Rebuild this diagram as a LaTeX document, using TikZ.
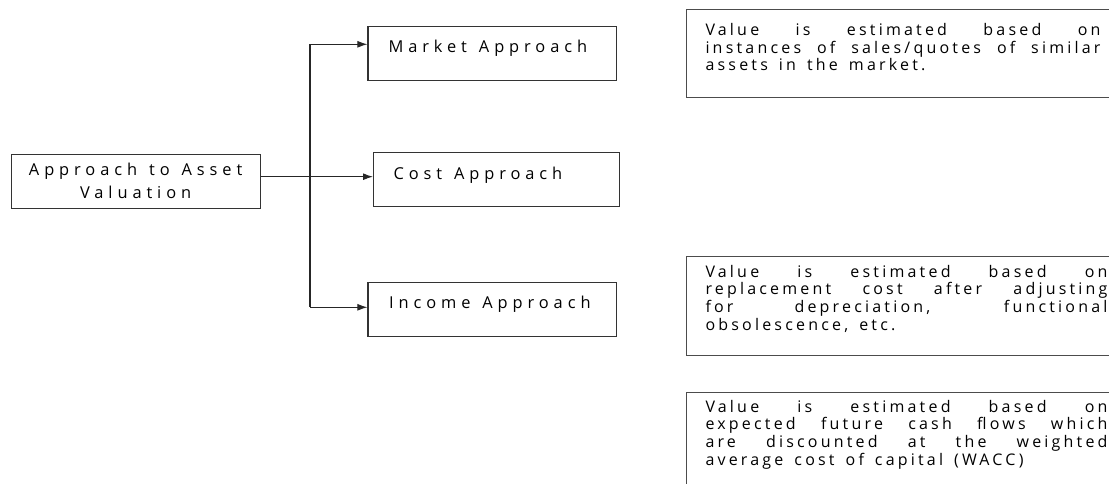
\documentclass[tikz,border=0pt]{standalone}
\usepackage{fontspec}
\setmainfont{Open Sans}[LetterSpace=20, WordSpace=1.5]
\newfontfamily\labelfont{Open Sans}[LetterSpace=30, WordSpace=1.3]
\usetikzlibrary{positioning, arrows.meta}

\begin{document}
\begin{tikzpicture}[x=1pt, y=-1pt,
  every node/.style={font=\fontsize{16}{17.7}\selectfont},
  box/.style={draw=black!80, line width=1.1pt, anchor=north west, inner ysep=0pt, align=justify,
    font=\labelfont\fontsize{16.4}{23}\selectfont},
  descbox/.style={draw=black!70, line width=1pt, anchor=north west, inner xsep=19pt, inner ysep=0pt, align=justify},
  conn/.style={line width=1.1pt, draw=black!85},
  >={Latex[length=10pt,width=7pt]}]

  \useasboundingbox (0,0) rectangle (1109,484);

  \node[box, align=center, minimum width=248.8pt, minimum height=54pt, inner xsep=0pt] (val) at (10.7,153.7) {Approach to Asset\\Valuation};

  \node[box, text width=207.4pt, inner xsep=20.6pt, text height=26.3pt, text depth=27.7pt] (mkt) at (367.4,26) {Market Approach};
  \node[box, text width=206pt, inner xsep=20pt, text height=26.7pt, text depth=27pt] (cost) at (373,152.3) {Cost Approach};
  \node[box, text width=206.4pt, inner xsep=21.1pt, text height=26pt, text depth=27.4pt] (inc) at (367.4,282.3) {Income Approach};

  \node[descbox, text width=395pt, text height=25.5pt, text depth=62pt] (mktnote) at (686,9.5)
    {Value is estimated based on\linebreak instances of sales/quotes of similar\linebreak assets in the market.};
  \node[descbox, text width=402pt, text height=20.7pt, text depth=78.3pt] (costnote) at (686,256)
    {Value is estimated based on\linebreak replacement cost after adjusting\linebreak for depreciation, functional\linebreak obsolescence, etc.};
  \node[descbox, text width=402pt, text height=20pt, text depth=110pt] (incnote) at (686,391.7)
    {Value is estimated based on\linebreak expected future cash flows which\linebreak are discounted at the weighted\linebreak average cost of capital (WACC)};

  \coordinate (split) at (310,176.7);
  \coordinate (up) at (310,44.3);
  \coordinate (down) at (310,307.3);

  \draw[conn] (val.east |- split) -- (split);
  \draw[conn] (up) -- (down);
  \draw[conn,->] (up) -- (up -| mkt.west);
  \draw[conn,->] (split) -- (split -| cost.west);
  \draw[conn,->] (down) -- (down -| inc.west);
\end{tikzpicture}
\end{document}
